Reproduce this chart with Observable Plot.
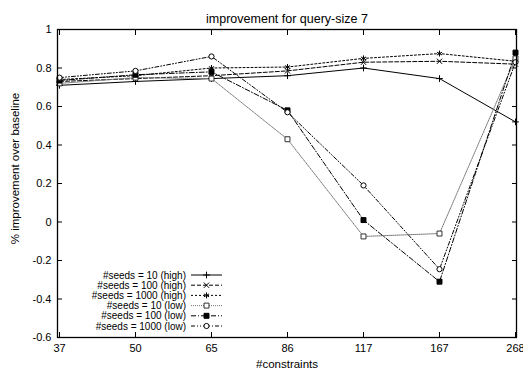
<!DOCTYPE html>
<html>
<head>
<meta charset="utf-8">
<script src="https://cdn.jsdelivr.net/npm/d3@7"></script>
<script src="https://cdn.jsdelivr.net/npm/@observablehq/plot@0.6"></script>
<style>
  body { margin: 0; background: #fff; }
  #wrap { position: relative; width: 523px; height: 372px; }
  #wrap svg { position: absolute; left: 0; top: 0; }
</style>
</head>
<body>
<div id="wrap"></div>
<script>
const constraints = ["37", "50", "65", "86", "117", "167", "268"];
const seeds10High   = [0.71, 0.73, 0.745, 0.76, 0.80, 0.745, 0.52];
const seeds100High  = [0.73, 0.745, 0.76, 0.785, 0.83, 0.835, 0.82];
const seeds1000High = [0.74, 0.76, 0.80, 0.805, 0.85, 0.875, 0.835];
const seeds10Low    = [0.72, 0.75, 0.745, 0.43, -0.075, -0.06, 0.85];
const seeds100Low   = [0.735, 0.765, 0.78, 0.58, 0.01, -0.31, 0.88];
const seeds1000Low  = [0.75, 0.785, 0.86, 0.57, 0.19, -0.245, 0.83];
const seriesNames = ["#seeds = 10 (high)", "#seeds = 100 (high)", "#seeds = 1000 (high)",
                     "#seeds = 10 (low)", "#seeds = 100 (low)", "#seeds = 1000 (low)"];
const yTicks = [-0.6, -0.4, -0.2, 0, 0.2, 0.4, 0.6, 0.8, 1];
const titleText = "improvement for query-size 7";
const xLabel = "#constraints";
const yLabel = "% improvement over baseline";

const seriesValues = [seeds10High, seeds100High, seeds1000High, seeds10Low, seeds100Low, seeds1000Low];
const styles = [
  {stroke: "#000", dash: null, symbol: d3.symbolPlus, fill: "none", r: 2.3},
  {stroke: "#000", dash: "4,2", symbol: d3.symbolTimes, fill: "none", r: 2.5},
  {stroke: "#000", dash: "2,2", symbol: d3.symbolAsterisk, fill: "none", r: 2.8},
  {stroke: "#777", dash: "1,1", symbol: d3.symbolSquare, fill: "white", r: 2.8},
  {stroke: "#000", dash: "5,2,1,2", symbol: d3.symbolSquare, fill: "black", r: 2.8},
  {stroke: "#000", dash: "4,2,1,2,1,2", symbol: d3.symbolCircle, fill: "white", r: 2.6}
];

const rows = [];
seriesValues.forEach((vals, si) => {
  vals.forEach((v, i) => rows.push({series: seriesNames[si], si, x: constraints[i], y: v}));
});

const W = 523, H = 372;
const mL = 57, mR = 7, mT = 29, mB = 35;

const marks = [];
seriesValues.forEach((vals, si) => {
  const data = rows.filter(d => d.si === si);
  const s = styles[si];
  marks.push(Plot.line(data, {x: "x", y: "y", stroke: s.stroke, strokeWidth: 1, strokeDasharray: s.dash}));
});
seriesValues.forEach((vals, si) => {
  const data = rows.filter(d => d.si === si);
  const s = styles[si];
  marks.push(Plot.dot(data, {x: "x", y: "y", symbol: s.symbol, r: s.r,
    stroke: si === 3 ? "#333" : "#000", strokeWidth: 1, fill: s.fill}));
});

const chart = Plot.plot({
  width: W, height: H,
  marginLeft: mL, marginRight: mR, marginTop: mT, marginBottom: mB,
  style: {fontFamily: "'Liberation Sans', Arial, Helvetica, sans-serif", fontSize: "11px", background: "white", color: "black"},
  x: {type: "point", domain: constraints, padding: 0},
  y: {domain: [-0.6, 1]},
  marks: [
    Plot.axisX({anchor: "bottom", tickSize: 0, tickPadding: 7, label: null}),
    Plot.axisX({anchor: "bottom", tickSize: -5, text: null, label: null}),
    Plot.axisX({anchor: "top", tickSize: -5, text: null, label: null}),
    Plot.axisY({anchor: "left", ticks: yTicks, tickSize: 0, tickPadding: 6, label: null, tickFormat: d => String(+d.toFixed(1))}),
    Plot.axisY({anchor: "left", ticks: yTicks, tickSize: -5, text: null, label: null}),
    Plot.axisY({anchor: "right", ticks: yTicks, tickSize: -5, text: null, label: null}),
    ...marks,
    Plot.frame({stroke: "black", strokeWidth: 1.3}),
    Plot.text([titleText], {text: d => d, frameAnchor: "top", dy: -15, fontSize: 12.5}),
    Plot.text([xLabel], {text: d => d, frameAnchor: "bottom", dy: 30, fontSize: 11.5}),
    Plot.text([yLabel], {text: d => d, frameAnchor: "left", textAnchor: "middle", rotate: -90, dx: -42, dy: -15, fontSize: 11.5})
  ]
});
document.getElementById("wrap").appendChild(chart);

// legend overlay (inside plot area, lower left)
const leg = d3.select("#wrap").append("svg").attr("width", W).attr("height", H)
  .style("font-family", "'Liberation Sans', Arial, Helvetica, sans-serif").style("font-size", "10px")
  .style("pointer-events", "none");
const lx = 186, lx1 = 191, lx2 = 222, ly0 = 275, lstep = 10.2;
seriesNames.forEach((name, i) => {
  const s = styles[i];
  const y = ly0 + i * lstep;
  leg.append("text").attr("x", lx).attr("y", y).attr("dy", "0.35em").attr("text-anchor", "end").attr("fill", "black").text(name);
  leg.append("line").attr("x1", lx1).attr("x2", lx2).attr("y1", y).attr("y2", y)
    .attr("stroke", s.stroke).attr("stroke-width", 1).attr("stroke-dasharray", s.dash);
  leg.append("path").attr("transform", `translate(${(lx1 + lx2) / 2},${y})`)
    .attr("d", d3.symbol(s.symbol, Math.PI * s.r * s.r)())
    .attr("fill", s.fill).attr("stroke", i === 3 ? "#333" : "#000").attr("stroke-width", 1);
});
</script>
</body>
</html>
